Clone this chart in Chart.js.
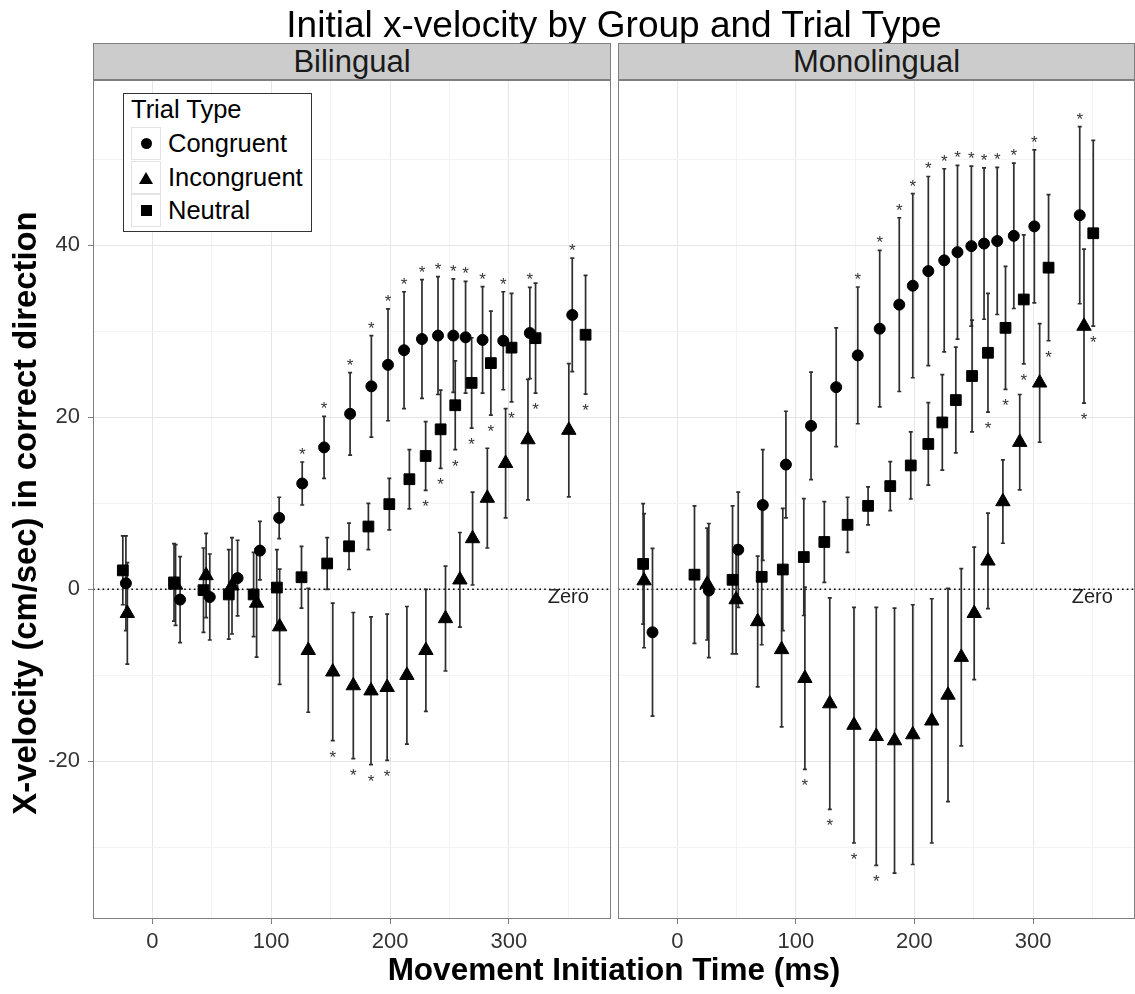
<!DOCTYPE html>
<html lang="en">
<head>
<meta charset="UTF-8">
<meta name="viewport" content="width=device-width, initial-scale=1.0">
<title>Initial x-velocity by Group and Trial Type</title>
<script src="https://cdn.jsdelivr.net/npm/chart.js"></script>
<style>
    body { margin: 0; background: #fff; }
    #page {
        position: relative; width: 1135px; height: 994px; overflow: hidden;
        font-family: "Liberation Sans", Arial, sans-serif; color: #000;
    }
    canvas { position: absolute; top: 0; }
    .title {
        position: absolute; left: 214px; width: 800px; top: 6px;
        text-align: center; font-size: 37px; line-height: 37px; white-space: nowrap;
    }
    .strip {
        position: absolute; top: 43px; height: 37px; box-sizing: border-box;
        background: #cccccc; border: 1px solid #7f7f7f;
        text-align: center; font-size: 31px; line-height: 35px; color: #1a1a1a;
    }
    .xtitle {
        position: absolute; left: 214px; width: 800px; top: 954px;
        text-align: center; font-weight: bold; font-size: 31.5px; line-height: 31px; white-space: nowrap;
    }
    .ytitle {
        position: absolute; left: -325px; top: 493px; width: 700px; height: 40px;
        text-align: center; font-weight: bold; font-size: 32.8px; line-height: 40px; white-space: nowrap;
        transform: rotate(-90deg);
    }
    /* legend inside the left panel */
    .legend {
        position: absolute; left: 123px; top: 93px; width: 189px; height: 139px;
        box-sizing: border-box; border: 1px solid #333; background: #fff; font-size: 25.5px;
    }
    .legend .lt { position: absolute; left: 7px; top: 0px; line-height: 30px; white-space: nowrap; }
    .legend .row { position: absolute; left: 0; height: 33px; width: 100%; }
    .legend .key {
        position: absolute; left: 7px; top: 0; width: 30px; height: 33px; box-sizing: border-box;
        border: 1px solid #e3e3e3; display: flex; align-items: center; justify-content: center;
    }
    .legend .txt { position: absolute; left: 44px; top: 0; line-height: 33px; white-space: nowrap; }
    .circ { width: 11px; height: 11px; border-radius: 50%; background: #000; }
    .sq { width: 11px; height: 11px; background: #000; }
    .tri { width: 0; height: 0; border-left: 7px solid transparent; border-right: 7px solid transparent; border-bottom: 12px solid #000; }
</style>
</head>
<body>
<div id="page">
    <canvas id="left" width="614" height="994" style="left:0px;"></canvas>
    <canvas id="right" width="521" height="994" style="left:614px;"></canvas>

    <div class="title">Initial x-velocity by Group and Trial Type</div>
    <div class="strip" style="left:93px; width:518px;">Bilingual</div>
    <div class="strip" style="left:618px; width:517px;">Monolingual</div>
    <div class="xtitle">Movement Initiation Time (ms)</div>
    <div class="ytitle">X-velocity (cm/sec) in correct direction</div>

    <div class="legend">
        <div class="lt">Trial Type</div>
        <div class="row" style="top:33px;"><span class="key"><i class="circ"></i></span><span class="txt">Congruent</span></div>
        <div class="row" style="top:67px;"><span class="key"><i class="tri"></i></span><span class="txt">Incongruent</span></div>
        <div class="row" style="top:100px;"><span class="key"><i class="sq"></i></span><span class="txt">Neutral</span></div>
    </div>
</div>

<script>
    // ---- Bilingual ----
    const biCongX = [-22.3, 23.3, 48.3, 71.7, 90.5, 106.7, 126.1, 144.5, 166.4, 184.3, 198.3, 211.8, 226.9, 240.4, 253.3, 263.6, 277.9, 295.3, 317.7, 353.4];
    const biCongY = [0.7, -1.2, -0.9, 1.3, 4.5, 8.3, 12.3, 16.5, 20.4, 23.6, 26.1, 27.8, 29.1, 29.5, 29.5, 29.3, 29.0, 28.9, 29.8, 31.9];
    const biCongErr = [5.5, 5.0, 5.0, 4.4, 3.4, 2.4, 2.5, 3.6, 4.8, 5.9, 6.5, 6.8, 6.9, 6.85, 6.6, 6.5, 6.2, 5.7, 5.3, 6.6];
    const biCongSig = [0, 0, 0, 0, 0, 0, 1, 1, 1, 1, 1, 1, 1, 1, 1, 1, 1, 1, 1, 1];

    const biIncX = [-21.1, 19.5, 45.2, 67.0, 87.7, 107.1, 131.2, 151.8, 169.1, 184.0, 197.6, 214.2, 230.2, 246.7, 258.8, 269.5, 281.9, 297.3, 316.1, 350.5];
    const biIncY = [-2.8, 0.5, 1.6, 0.4, -1.6, -4.35, -7.1, -9.6, -11.2, -11.8, -11.4, -10.0, -7.1, -3.4, 1.1, 5.9, 10.6, 14.65, 17.4, 18.5];
    const biIncErr = [5.9, 4.7, 4.9, 5.6, 6.3, 6.7, 7.2, 8.0, 8.5, 8.6, 8.5, 8.0, 7.1, 6.1, 5.5, 5.4, 5.8, 6.35, 7.0, 7.75];
    const biIncSig = [0, 0, 0, 0, 0, 0, 0, 1, 1, 1, 1, 0, 0, 0, 0, 0, 0, 0, 0, 0];

    const biNeuX = [-24.9, 18.2, 43.0, 64.3, 85.2, 104.8, 125.5, 147.1, 165.5, 181.8, 199.4, 216.3, 230.0, 242.6, 254.9, 268.7, 284.9, 302.3, 322.5, 364.6];
    const biNeuY = [2.2, 0.8, -0.1, -0.6, -0.6, 0.2, 1.4, 3.0, 5.0, 7.3, 9.9, 12.8, 15.5, 18.6, 21.4, 24.0, 26.3, 28.1, 29.2, 29.6];
    const biNeuErr = [4.0, 4.5, 4.9, 5.2, 4.9, 4.4, 3.6, 3.0, 2.7, 2.7, 3.0, 3.45, 4.0, 4.55, 5.15, 5.25, 6.05, 6.3, 6.4, 6.9];
    const biNeuSig = [0, 0, 0, 0, 0, 0, 0, 0, 0, 0, 0, 0, 1, 1, 1, 1, 1, 1, 1, 1];

    // ---- Monolingual ----
    const moCongX = [-20.9, 26.6, 51.4, 72.1, 91.6, 112.8, 134.0, 152.2, 170.7, 187.2, 198.6, 211.7, 225.1, 236.3, 248.0, 258.7, 269.8, 283.8, 301.1, 339.4];
    const moCongY = [-5.0, -0.15, 4.6, 9.8, 14.5, 19.0, 23.5, 27.2, 30.3, 33.1, 35.3, 37.0, 38.25, 39.2, 39.9, 40.2, 40.5, 41.1, 42.2, 43.5];
    const moCongErr = [9.75, 7.8, 6.7, 6.45, 6.2, 6.25, 6.9, 7.95, 9.1, 10.1, 10.7, 11.0, 10.65, 10.1, 9.3, 8.8, 8.55, 8.45, 8.9, 10.3];
    const moCongSig = [0, 0, 0, 0, 0, 0, 0, 1, 1, 1, 1, 1, 1, 1, 1, 1, 1, 1, 1, 1];

    const moIncX = [-28.0, 25.2, 49.6, 67.8, 88.0, 107.6, 128.6, 149.0, 167.8, 183.2, 198.6, 214.6, 228.3, 239.5, 250.4, 262.0, 274.6, 288.8, 305.6, 343.0];
    const moIncY = [1.0, 0.6, -1.2, -3.75, -7.0, -10.35, -13.3, -15.8, -17.1, -17.6, -16.9, -15.3, -12.3, -7.9, -2.8, 3.3, 10.2, 17.1, 24.0, 30.6];
    const moIncErr = [7.8, 6.5, 6.3, 7.6, 9.0, 10.6, 12.3, 13.7, 15.0, 15.4, 15.1, 14.2, 12.4, 10.3, 7.7, 5.55, 4.85, 5.55, 6.9, 8.95];
    const moIncSig = [0, 0, 0, 0, 0, 1, 1, 1, 1, 0, 0, 0, 0, 0, 0, 0, 0, 0, 0, 1];

    const moNeuX = [-28.8, 14.5, 46.6, 71.2, 89.0, 106.7, 124.0, 143.6, 160.9, 179.6, 196.9, 211.7, 223.5, 234.9, 248.6, 262.0, 276.8, 292.2, 313.1, 350.8];
    const moNeuY = [2.95, 1.7, 1.1, 1.45, 2.3, 3.75, 5.5, 7.5, 9.7, 12.0, 14.4, 16.9, 19.4, 22.0, 24.8, 27.5, 30.4, 33.7, 37.4, 41.4];
    const moNeuErr = [7.0, 8.0, 8.6, 7.9, 7.1, 6.8, 4.7, 3.2, 2.2, 2.85, 3.9, 4.8, 5.55, 6.15, 6.5, 6.9, 7.15, 7.5, 8.5, 10.8];
    const moNeuSig = [0, 0, 0, 0, 0, 0, 0, 0, 0, 0, 0, 0, 0, 0, 0, 1, 1, 1, 1, 1];

    // axis ticks
    const xTicks = [0, 50, 100, 150, 200, 250, 300, 350];
    const yTicks = [-30, -20, -10, 0, 10, 20, 30, 40, 50];
    const zeroLabel = 'Zero';

    Chart.defaults.font.family = '"Liberation Sans", Arial, sans-serif';

    function points(xs, ys, errs, sigs) {
        return xs.map((x, i) => ({ x: x, y: ys[i], err: errs[i], sig: sigs[i] }));
    }

    const panelExtras = {
        id: 'panelExtras',
        beforeDatasetsDraw(chart) {
            const { ctx, chartArea: a, scales: { x, y } } = chart;
            ctx.save();
            ctx.beginPath();
            ctx.rect(a.left, a.top, a.width, a.height);
            ctx.clip();
            // dotted zero line
            const y0 = y.getPixelForValue(0);
            ctx.strokeStyle = '#000';
            ctx.lineWidth = 1.6;
            ctx.setLineDash([1.6, 3.2]);
            ctx.beginPath();
            ctx.moveTo(a.left, y0);
            ctx.lineTo(a.right, y0);
            ctx.stroke();
            ctx.setLineDash([]);
            // error bars
            ctx.strokeStyle = '#2e2e2e';
            ctx.lineWidth = 1.7;
            chart.data.datasets.forEach(ds => {
                ds.data.forEach(p => {
                    const px = x.getPixelForValue(p.x);
                    const top = y.getPixelForValue(p.y + p.err);
                    const bot = y.getPixelForValue(p.y - p.err);
                    ctx.beginPath();
                    ctx.moveTo(px, top); ctx.lineTo(px, bot);
                    ctx.moveTo(px - 2, top); ctx.lineTo(px + 2, top);
                    ctx.moveTo(px - 2, bot); ctx.lineTo(px + 2, bot);
                    ctx.stroke();
                });
            });
            ctx.restore();
        },
        afterDatasetsDraw(chart) {
            const { ctx, chartArea: a, scales: { x, y } } = chart;
            ctx.save();
            // significance stars
            ctx.fillStyle = '#333';
            ctx.font = '17px "Liberation Sans", Arial, sans-serif';
            ctx.textAlign = 'center';
            ctx.textBaseline = 'alphabetic';
            chart.data.datasets.forEach(ds => {
                ds.data.forEach(p => {
                    if (!p.sig) return;
                    const px = x.getPixelForValue(p.x);
                    const cy = ds.starAbove ? y.getPixelForValue(p.y + p.err) - 12
                                            : y.getPixelForValue(p.y - p.err) + 12;
                    ctx.fillText('*', px, cy + 10);
                });
            });
            // "Zero" label
            ctx.fillStyle = '#222';
            ctx.font = '20px "Liberation Sans", Arial, sans-serif';
            ctx.textBaseline = 'middle';
            ctx.fillText(zeroLabel, x.getPixelForValue(350), y.getPixelForValue(-1.0));
            // panel border
            ctx.strokeStyle = '#7f7f7f';
            ctx.lineWidth = 1;
            ctx.strokeRect(a.left + 0.5, a.top + 0.5, a.width - 1, a.height - 1);
            ctx.restore();
        }
    };

    function gridColor(ctx, step) {
        return ctx.tick && ctx.tick.value % step === 0 ? '#e6e6e6' : '#f3f3f3';
    }

    function makeChart(id, cong, inc, neu, showY, pad) {
        return new Chart(document.getElementById(id), {
            type: 'scatter',
            data: {
                datasets: [
                    { label: 'Congruent', data: cong, pointStyle: 'circle', pointRadius: 5.5, starAbove: true,
                      backgroundColor: '#000', borderColor: '#000', borderWidth: 1 },
                    { label: 'Incongruent', data: inc, pointStyle: 'triangle', pointRadius: 8.3, starAbove: false,
                      backgroundColor: '#000', borderColor: '#000', borderWidth: 1 },
                    { label: 'Neutral', data: neu, pointStyle: 'rect', pointRadius: 7.6, starAbove: false,
                      backgroundColor: '#000', borderColor: '#000', borderWidth: 1 }
                ]
            },
            options: {
                responsive: false,
                animation: false,
                events: [],
                layout: { padding: pad, autoPadding: false },
                plugins: { legend: { display: false }, tooltip: { enabled: false } },
                scales: {
                    x: {
                        type: 'linear', min: -50, max: 386,
                        afterBuildTicks: s => { s.ticks = xTicks.map(v => ({ value: v })); },
                        afterFit: s => { s.height = 75; },
                        border: { display: false },
                        grid: {
                            color: c => gridColor(c, 100), lineWidth: 1,
                            tickLength: 5,
                            tickColor: c => (c.tick && c.tick.value % 100 === 0 ? '#7f7f7f' : 'rgba(0,0,0,0)')
                        },
                        ticks: {
                            autoSkip: false, maxRotation: 0, padding: 5, color: '#333',
                            font: { size: 22 },
                            callback: v => (v % 100 === 0 ? v : '')
                        }
                    },
                    y: {
                        type: 'linear', min: -38.34, max: 59.22,
                        afterBuildTicks: s => { s.ticks = yTicks.map(v => ({ value: v })); },
                        afterFit: s => { s.width = showY ? 93 : 0; },
                        border: { display: false },
                        grid: {
                            color: c => gridColor(c, 20), lineWidth: 1,
                            drawTicks: showY, tickLength: 5,
                            tickColor: c => (c.tick && c.tick.value % 20 === 0 ? '#7f7f7f' : 'rgba(0,0,0,0)')
                        },
                        ticks: {
                            display: showY, autoSkip: false, padding: 8, color: '#333',
                            font: { size: 22 },
                            callback: v => (v % 20 === 0 ? v : '')
                        }
                    }
                }
            },
            plugins: [panelExtras]
        });
    }

    makeChart('left',
        points(biCongX, biCongY, biCongErr, biCongSig),
        points(biIncX, biIncY, biIncErr, biIncSig),
        points(biNeuX, biNeuY, biNeuErr, biNeuSig),
        true, { left: 0, right: 3, top: 80, bottom: 0 });

    makeChart('right',
        points(moCongX, moCongY, moCongErr, moCongSig),
        points(moIncX, moIncY, moIncErr, moIncSig),
        points(moNeuX, moNeuY, moNeuErr, moNeuSig),
        false, { left: 4, right: 0, top: 80, bottom: 0 });
</script>
</body>
</html>
